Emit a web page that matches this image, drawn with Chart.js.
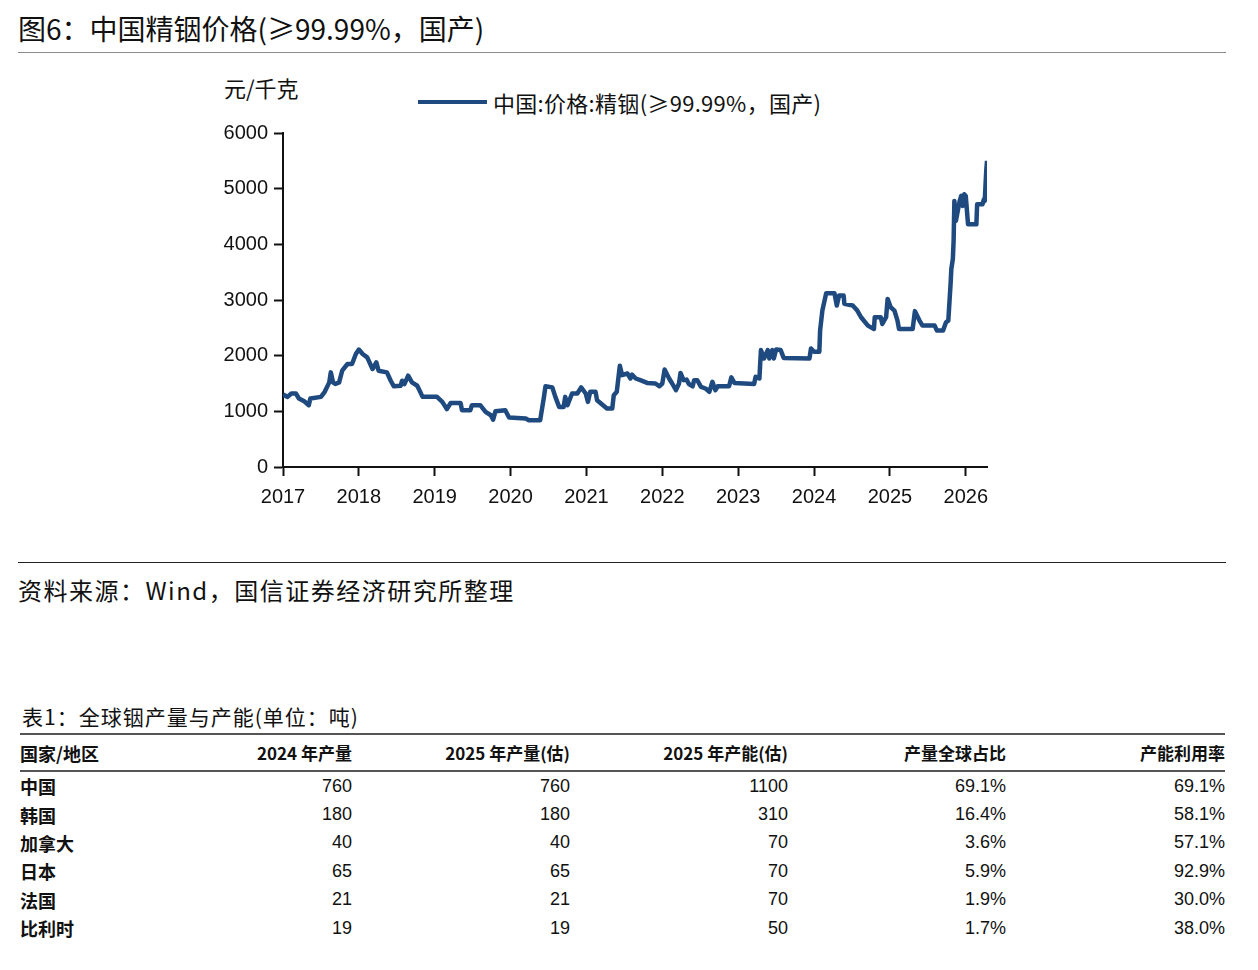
<!DOCTYPE html>
<html>
<head>
<meta charset="utf-8">
<script src="https://cdn.jsdelivr.net/npm/chart.js@4"></script>
<style>
  body { margin: 0; width: 1258px; height: 970px; background: #fff; position: relative;
         font-family: "Noto Sans CJK SC", "Noto Sans", sans-serif; color: #111; overflow: hidden; }
  .abs { position: absolute; white-space: nowrap; }
  #title { left: 18px; top: 9px; font-size: 28px; line-height: 38px; }
  #title-rule { left: 18px; top: 52px; width: 1208px; height: 0; border-top: 1.5px solid #8c8c8c; }
  #unit { left: 224px; top: 73px; font-size: 22px; line-height: 28px; }
  #legend-line { left: 418px; top: 100px; width: 69px; height: 4px; background: #1f4a7f; }
  #legend-text { left: 493px; top: 88px; font-size: 22px; line-height: 28px; letter-spacing: 0.3px; }
  #chart-wrap { left: 210px; top: 115px; width: 800px; height: 397px; }
  #src-rule { left: 18px; top: 562px; width: 1208px; height: 0; border-top: 1.5px solid #222; }
  #source { left: 18px; top: 574px; font-size: 24px; line-height: 32px; letter-spacing: 1.5px; }
  #tcap { left: 22px; top: 702px; font-size: 21px; line-height: 28px; letter-spacing: 1px; }
  #tbl { position: absolute; left: 20px; top: 733px; border-collapse: collapse; table-layout: fixed; }
  #tbl th, #tbl td { padding: 0; font-size: 17px; text-align: right; }
  #tbl th { font-weight: bold; height: 35px; border-top: 2px solid #555; border-bottom: 2px solid #555; }
  #tbl td { height: 28.4px; }
  #tbl .c0 { text-align: left; font-weight: bold; font-size: 18px; }
  #tbl td.num { font-family: "Liberation Sans Narrow", "Liberation Sans", sans-serif; font-size: 18px; }
</style>
</head>
<body>
<div class="abs" id="title">图6：中国精铟价格(≥99.99%，国产)</div>
<div class="abs" id="title-rule"></div>
<div class="abs" id="unit">元/千克</div>
<div class="abs" id="legend-line"></div>
<div class="abs" id="legend-text">中国:价格:精铟(≥99.99%，国产)</div>
<div class="abs" id="chart-wrap"><canvas id="priceChart"></canvas></div>
<div class="abs" id="src-rule"></div>
<div class="abs" id="source">资料来源：Wind，国信证券经济研究所整理</div>
<div class="abs" id="tcap">表1：全球铟产量与产能(单位：吨)</div>
<table id="tbl">
  <colgroup>
    <col style="width:120px"><col style="width:212px"><col style="width:218px">
    <col style="width:218px"><col style="width:218px"><col style="width:219px">
  </colgroup>
  <thead><tr id="thead-row"></tr></thead>
  <tbody id="tbody"></tbody>
</table>

<script>
// price series (decimal year, 元/千克)
const dates = [
  2017.00, 2017.06, 2017.11, 2017.17, 2017.21, 2017.28, 2017.34, 2017.36, 2017.50, 2017.55,
  2017.61, 2017.63, 2017.66, 2017.69, 2017.74, 2017.78, 2017.85, 2017.91, 2017.96, 2018.00,
  2018.05, 2018.11, 2018.18, 2018.23, 2018.26, 2018.37, 2018.42, 2018.46, 2018.55, 2018.57,
  2018.60, 2018.65, 2018.70, 2018.77, 2018.84, 2019.03, 2019.10, 2019.16, 2019.21, 2019.34,
  2019.36, 2019.47, 2019.49, 2019.60, 2019.67, 2019.74, 2019.77, 2019.80, 2019.93, 2019.98,
  2020.20, 2020.24, 2020.39, 2020.44, 2020.46, 2020.55, 2020.59, 2020.64, 2020.70, 2020.72,
  2020.75, 2020.81, 2020.88, 2020.93, 2020.99, 2021.02, 2021.05, 2021.12, 2021.14, 2021.27,
  2021.34, 2021.36, 2021.40, 2021.44, 2021.47, 2021.54, 2021.58, 2021.60, 2021.65, 2021.71,
  2021.80, 2021.91, 2021.96, 2022.00, 2022.03, 2022.09, 2022.13, 2022.18, 2022.22, 2022.24,
  2022.28, 2022.32, 2022.35, 2022.40, 2022.42, 2022.46, 2022.51, 2022.57, 2022.62, 2022.66,
  2022.70, 2022.73, 2022.88, 2022.91, 2022.95, 2023.21, 2023.23, 2023.28, 2023.30, 2023.34,
  2023.39, 2023.41, 2023.45, 2023.47, 2023.50, 2023.56, 2023.60, 2023.94, 2023.96, 2024.00,
  2024.07, 2024.08, 2024.11, 2024.16, 2024.27, 2024.30, 2024.33, 2024.39, 2024.40, 2024.51,
  2024.57, 2024.62, 2024.71, 2024.79, 2024.80, 2024.88, 2024.90, 2024.95, 2024.97, 2025.01,
  2025.06, 2025.10, 2025.12, 2025.30, 2025.33, 2025.39, 2025.43, 2025.59, 2025.62, 2025.70,
  2025.74, 2025.77, 2025.80, 2025.81, 2025.83, 2025.84, 2025.85, 2025.87, 2025.92, 2025.94,
  2025.96, 2025.98, 2026.00, 2026.03, 2026.14, 2026.15, 2026.22, 2026.24, 2026.25, 2026.27,
  2026.28
];
const prices = [
  1300, 1260, 1320, 1320, 1230, 1180, 1110, 1230, 1260, 1350,
  1520, 1700, 1520, 1490, 1520, 1730, 1850, 1850, 2030, 2110,
  2030, 1970, 1760, 1880, 1730, 1700, 1550, 1450, 1460, 1550,
  1490, 1640, 1520, 1460, 1260, 1260, 1170, 1040, 1150, 1150,
  1020, 1020, 1110, 1110, 990, 930, 850, 1000, 1020, 890,
  870, 840, 840, 1260, 1450, 1430, 1260, 1080, 1080, 1260,
  1110, 1320, 1320, 1430, 1320, 1170, 1350, 1350, 1200, 1050,
  1050, 1290, 1350, 1820, 1650, 1680, 1590, 1660, 1590, 1560,
  1510, 1500, 1450, 1500, 1750, 1590, 1500, 1380, 1500, 1690,
  1560, 1570, 1490, 1450, 1560, 1560, 1440, 1410, 1350, 1530,
  1380, 1450, 1450, 1610, 1510, 1490, 1620, 1590, 2100, 1950,
  2100, 1950, 2100, 1950, 2110, 2100, 1960, 1950, 2130, 2070,
  2070, 2450, 2810, 3120, 3120, 2900, 3080, 3080, 2930, 2900,
  2810, 2690, 2540, 2480, 2690, 2690, 2570, 2690, 3020, 2870,
  2810, 2630, 2480, 2480, 2800, 2630, 2540, 2540, 2450, 2450,
  2600, 2630, 3290, 3560, 3740, 4070, 4780, 4420, 4780, 4870,
  4690, 4900, 4870, 4360, 4360, 4720, 4720, 4810, 4780, 5320,
  5500
];
const yearTicks = [2017, 2018, 2019, 2020, 2021, 2022, 2023, 2024, 2025, 2026];
const yTicks = [0, 1000, 2000, 3000, 4000, 5000, 6000];

// table 1
const tableHeaders = ['国家/地区', '2024 年产量', '2025 年产量(估)', '2025 年产能(估)', '产量全球占比', '产能利用率'];
const regions = ['中国', '韩国', '加拿大', '日本', '法国', '比利时'];
const prod2024 = [760, 180, 40, 65, 21, 19];
const prod2025 = [760, 180, 40, 65, 21, 19];
const cap2025 = [1100, 310, 70, 70, 70, 50];
const globalShare = ['69.1%', '16.4%', '3.6%', '5.9%', '1.9%', '1.7%'];
const utilization = ['69.1%', '58.1%', '57.1%', '92.9%', '30.0%', '38.0%'];

document.getElementById('thead-row').innerHTML =
  tableHeaders.map((h, i) => `<th class="${i === 0 ? 'c0' : ''}">${h}</th>`).join('');

document.getElementById('tbody').innerHTML = regions.map((r, i) => `
  <tr>
    <td class="c0">${r}</td>
    <td class="num">${prod2024[i]}</td>
    <td class="num">${prod2025[i]}</td>
    <td class="num">${cap2025[i]}</td>
    <td class="num">${globalShare[i]}</td>
    <td class="num">${utilization[i]}</td>
  </tr>`).join('');

const tickFont = { family: '"Liberation Sans", Arial, sans-serif', size: 20 };

new Chart(document.getElementById('priceChart'), {
  type: 'line',
  data: {
    datasets: [{
      label: '中国:价格:精铟(≥99.99%，国产)',
      data: dates.map((d, i) => ({ x: d, y: prices[i] })),
      borderColor: '#1f4a7f',
      borderWidth: 4.5,
      pointRadius: 0,
      tension: 0,
      borderJoinStyle: 'round',
      fill: false
    }]
  },
  options: {
    responsive: true,
    maintainAspectRatio: false,
    animation: false,
    layout: { padding: { top: 17, right: 23, left: 0, bottom: 0 } },
    plugins: { legend: { display: false }, tooltip: { enabled: false } },
    scales: {
      x: {
        type: 'linear',
        min: 2017,
        max: 2026.28,
        afterBuildTicks: scale => { scale.ticks = yearTicks.map(v => ({ value: v })); },
        afterFit: scale => { scale.height = 45; },
        ticks: { color: '#111', font: tickFont, padding: 9, maxRotation: 0, callback: v => String(v) },
        grid: { drawOnChartArea: false, tickLength: 9, tickColor: '#111', tickWidth: 2 },
        border: { display: true, color: '#111', width: 2 }
      },
      y: {
        min: 0,
        max: 6000,
        afterBuildTicks: scale => { scale.ticks = yTicks.map(v => ({ value: v })); },
        afterFit: scale => { scale.width = 73; },
        ticks: { color: '#111', font: tickFont, padding: 6, callback: v => String(v) },
        grid: { drawOnChartArea: false, tickLength: 9, tickColor: '#111', tickWidth: 2 },
        border: { display: true, color: '#111', width: 2 }
      }
    }
  }
});
</script>
</body>
</html>
